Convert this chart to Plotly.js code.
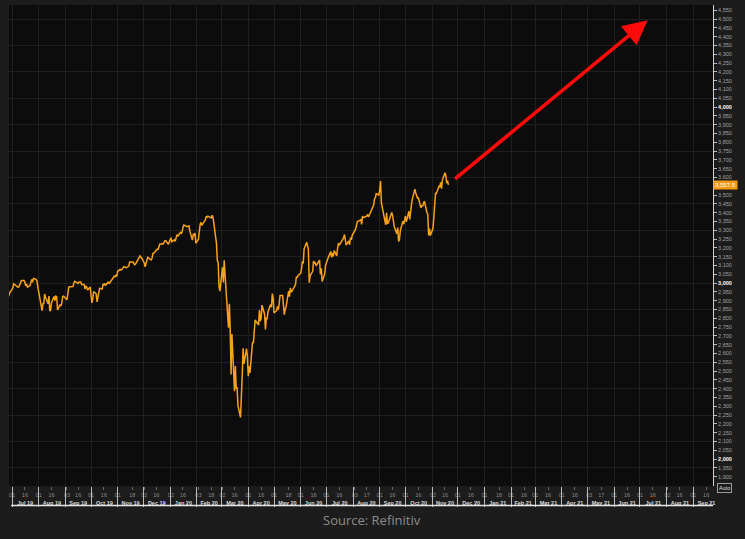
<!DOCTYPE html>
<html>
<head>
<meta charset="utf-8">
<script src="https://cdn.plot.ly/plotly-3.0.1.min.js"></script>
<style>
html,body{margin:0;padding:0;background:#1c1c1c;}
#chart{width:745px;height:539px;}
</style>
</head>
<body>
<div id="chart"></div>
<script>
// ---- Data (index level, daily) ----
const dates = [
"2019-06-27","2019-06-28","2019-07-01","2019-07-02","2019-07-03","2019-07-05","2019-07-08","2019-07-09","2019-07-10","2019-07-11","2019-07-12",
"2019-07-15","2019-07-16","2019-07-17","2019-07-18","2019-07-19","2019-07-22","2019-07-23","2019-07-24","2019-07-25","2019-07-26",
"2019-07-29","2019-07-30","2019-07-31","2019-08-01","2019-08-02","2019-08-05","2019-08-06","2019-08-07","2019-08-08","2019-08-09",
"2019-08-12","2019-08-13","2019-08-14","2019-08-15","2019-08-16","2019-08-19","2019-08-20","2019-08-21","2019-08-22","2019-08-23",
"2019-08-26","2019-08-27","2019-08-28","2019-08-29","2019-08-30","2019-09-03","2019-09-04","2019-09-05","2019-09-06",
"2019-09-09","2019-09-10","2019-09-11","2019-09-12","2019-09-13","2019-09-16","2019-09-17","2019-09-18","2019-09-19","2019-09-20",
"2019-09-23","2019-09-24","2019-09-25","2019-09-26","2019-09-27","2019-09-30","2019-10-01","2019-10-02","2019-10-03","2019-10-04",
"2019-10-07","2019-10-08","2019-10-09","2019-10-10","2019-10-11","2019-10-14","2019-10-15","2019-10-16","2019-10-17","2019-10-18",
"2019-10-21","2019-10-22","2019-10-23","2019-10-24","2019-10-25","2019-10-28","2019-10-29","2019-10-30","2019-10-31","2019-11-01",
"2019-11-04","2019-11-05","2019-11-06","2019-11-07","2019-11-08","2019-11-11","2019-11-12","2019-11-13","2019-11-14","2019-11-15",
"2019-11-18","2019-11-19","2019-11-20","2019-11-21","2019-11-22","2019-11-25","2019-11-26","2019-11-27","2019-11-29",
"2019-12-02","2019-12-03","2019-12-04","2019-12-05","2019-12-06","2019-12-09","2019-12-10","2019-12-11","2019-12-12","2019-12-13",
"2019-12-16","2019-12-17","2019-12-18","2019-12-19","2019-12-20","2019-12-23","2019-12-24","2019-12-26","2019-12-27","2019-12-30","2019-12-31",
"2020-01-02","2020-01-03","2020-01-06","2020-01-07","2020-01-08","2020-01-09","2020-01-10","2020-01-13","2020-01-14","2020-01-15","2020-01-16","2020-01-17",
"2020-01-21","2020-01-22","2020-01-23","2020-01-24","2020-01-27","2020-01-28","2020-01-29","2020-01-30","2020-01-31",
"2020-02-03","2020-02-04","2020-02-05","2020-02-06","2020-02-07","2020-02-10","2020-02-11","2020-02-12","2020-02-13","2020-02-14",
"2020-02-18","2020-02-19","2020-02-20","2020-02-21","2020-02-24","2020-02-25","2020-02-26","2020-02-27","2020-02-28",
"2020-03-02","2020-03-03","2020-03-04","2020-03-05","2020-03-06","2020-03-09","2020-03-10","2020-03-11","2020-03-12","2020-03-13",
"2020-03-16","2020-03-17","2020-03-18","2020-03-19","2020-03-20","2020-03-23","2020-03-24","2020-03-25","2020-03-26","2020-03-27",
"2020-03-30","2020-03-31","2020-04-01","2020-04-02","2020-04-03","2020-04-06","2020-04-07","2020-04-08","2020-04-09",
"2020-04-13","2020-04-14","2020-04-15","2020-04-16","2020-04-17","2020-04-20","2020-04-21","2020-04-22","2020-04-23","2020-04-24",
"2020-04-27","2020-04-28","2020-04-29","2020-04-30","2020-05-01","2020-05-04","2020-05-05","2020-05-06","2020-05-07","2020-05-08",
"2020-05-11","2020-05-12","2020-05-13","2020-05-14","2020-05-15","2020-05-18","2020-05-19","2020-05-20","2020-05-21","2020-05-22",
"2020-05-26","2020-05-27","2020-05-28","2020-05-29","2020-06-01","2020-06-02","2020-06-03","2020-06-04","2020-06-05",
"2020-06-08","2020-06-09","2020-06-10","2020-06-11","2020-06-12","2020-06-15","2020-06-16","2020-06-17","2020-06-18","2020-06-19",
"2020-06-22","2020-06-23","2020-06-24","2020-06-25","2020-06-26","2020-06-29","2020-06-30","2020-07-01","2020-07-02",
"2020-07-06","2020-07-07","2020-07-08","2020-07-09","2020-07-10","2020-07-13","2020-07-14","2020-07-15","2020-07-16","2020-07-17",
"2020-07-20","2020-07-21","2020-07-22","2020-07-23","2020-07-24","2020-07-27","2020-07-28","2020-07-29","2020-07-30","2020-07-31",
"2020-08-03","2020-08-04","2020-08-05","2020-08-06","2020-08-07","2020-08-10","2020-08-11","2020-08-12","2020-08-13","2020-08-14",
"2020-08-17","2020-08-18","2020-08-19","2020-08-20","2020-08-21","2020-08-24","2020-08-25","2020-08-26","2020-08-27","2020-08-28",
"2020-08-31","2020-09-01","2020-09-02","2020-09-03","2020-09-04","2020-09-08","2020-09-09","2020-09-10","2020-09-11",
"2020-09-14","2020-09-15","2020-09-16","2020-09-17","2020-09-18","2020-09-21","2020-09-22","2020-09-23","2020-09-24","2020-09-25",
"2020-09-28","2020-09-29","2020-09-30","2020-10-01","2020-10-02","2020-10-05","2020-10-06","2020-10-07","2020-10-08","2020-10-09",
"2020-10-12","2020-10-13","2020-10-14","2020-10-15","2020-10-16","2020-10-19","2020-10-20","2020-10-21","2020-10-22","2020-10-23",
"2020-10-26","2020-10-27","2020-10-28","2020-10-29","2020-10-30","2020-11-02","2020-11-03","2020-11-04","2020-11-05","2020-11-06",
"2020-11-09","2020-11-10","2020-11-11","2020-11-12","2020-11-13","2020-11-16","2020-11-17","2020-11-18","2020-11-19","2020-11-20"
];
const closes = [
2924,2942,2964,2973,2996,2990,2976,2979,2993,3000,3014,
3014,3004,2984,2995,2977,2986,3005,3020,3004,3026,
3021,3013,2980,2954,2932,2844,2882,2884,2938,2919,
2883,2926,2840,2848,2889,2924,2900,2925,2922,2847,
2878,2869,2887,2924,2926,2906,2938,2976,2979,
2979,2980,3001,3010,3007,2998,3006,3007,3006,2992,
2992,2966,2984,2977,2961,2977,2940,2887,2910,2952,
2939,2893,2919,2938,2970,2966,2995,2990,2998,2986,
3007,2996,3004,3010,3023,3039,3036,3047,3038,3067,
3078,3075,3077,3085,3093,3087,3091,3094,3097,3120,
3122,3120,3108,3104,3110,3133,3141,3154,3141,
3114,3093,3113,3117,3146,3135,3132,3141,3168,3169,
3192,3193,3191,3205,3221,3224,3223,3240,3240,3221,3231,
3258,3235,3246,3237,3253,3275,3265,3288,3283,3289,3316,3330,
3321,3321,3325,3295,3244,3276,3273,3284,3226,
3249,3298,3334,3345,3328,3352,3358,3379,3374,3380,
3370,3386,3373,3338,3226,3128,3116,2979,2954,
3090,3003,3130,3024,2972,2747,2882,2741,2481,2711,
2386,2529,2398,2409,2305,2237,2447,2476,2630,2541,
2627,2585,2471,2527,2489,2664,2659,2750,2790,
2762,2846,2784,2800,2875,2823,2737,2799,2798,2837,
2878,2863,2940,2912,2831,2843,2868,2849,2882,2930,
2930,2870,2820,2852,2864,2954,2923,2972,2949,2955,
2992,3036,3030,3044,3056,3081,3123,3112,3194,
3232,3208,3190,3002,3041,3067,3125,3114,3116,3098,
3118,3131,3050,3084,3009,3053,3100,3116,3130,
3180,3146,3170,3152,3185,3155,3197,3227,3216,3225,
3251,3257,3276,3236,3216,3239,3218,3258,3246,3271,
3295,3306,3327,3349,3351,3360,3333,3380,3373,3373,
3382,3390,3375,3385,3397,3431,3444,3479,3485,3508,
3500,3527,3580,3455,3427,3331,3399,3339,3341,
3383,3401,3385,3357,3319,3281,3315,3237,3247,3298,
3351,3335,3363,3381,3348,3408,3361,3419,3447,3477,
3534,3512,3489,3483,3484,3427,3443,3436,3453,3465,
3401,3391,3271,3310,3270,3310,3370,3443,3510,3509,
3550,3545,3572,3537,3585,3627,3610,3567,3582,3557.5
];

// Date-axis tick labels (first trading day and mid-month day)
const tickMonths = ["2019-07","2019-08","2019-09","2019-10","2019-11","2019-12","2020-01","2020-02","2020-03","2020-04","2020-05","2020-06","2020-07","2020-08","2020-09","2020-10","2020-11","2020-12","2021-01","2021-02","2021-03","2021-04","2021-05","2021-06","2021-07","2021-08","2021-09"];
const firstDayLabels = ["01","01","03","01","01","02","02","03","02","01","01","01","01","03","01","01","02","01","01","01","01","01","03","01","01","02","01"];
const midDayLabels   = ["16","16","16","16","18","16","16","18","16","16","18","16","16","17","16","16","16","16","18","16","16","16","17","16","16","16","16"];

// Right-axis price labels
const yTickStart = 1900, yTickEnd = 4550, yTickStep = 50;

// Annotation arrow (tail -> head) and texts
const arrowTail = {x: "2020-11-26", y: 3585};
const arrowHead = {x: "2021-07-10", y: 4494};
const sourceText = "Source: Refinitiv";
const lastLabel = "3,557.5";

// ---- Build helpers ----
const dayTickVals = [], dayTickText = [];
tickMonths.forEach((m, i) => {
  dayTickVals.push(m + "-" + firstDayLabels[i]); dayTickText.push(firstDayLabels[i]);
  dayTickVals.push(m + "-" + midDayLabels[i]);   dayTickText.push(midDayLabels[i]);
});
const yTickVals = [], yTickText = [];
for (let v = yTickStart; v <= yTickEnd; v += yTickStep) {
  yTickVals.push(v);
  const s = v.toLocaleString("en-US");
  yTickText.push(v % 1000 === 0 ? '<b><span style="color:#ffffff">' + s + '</span></b>' : s);
}

const xRange = ["2019-06-27 12:00", "2021-09-24"];
const yRange = [1847, 4580];

const traces = [
  {
    x: dates, y: closes, type: "scatter", mode: "lines",
    line: {color: "#f7a21b", width: 1.5},
    hoverinfo: "x+y", showlegend: false
  },
  {
    x: dates, y: closes, type: "scatter", mode: "lines",
    xaxis: "x2", yaxis: "y2",
    line: {color: "rgba(0,0,0,0)", width: 0},
    hoverinfo: "skip", showlegend: false
  }
];

const tickFontFamily = "Liberation Sans, Arial, sans-serif";

const layout = {
  width: 745, height: 539,
  margin: {l: 9, r: 32, t: 5, b: 53},
  paper_bgcolor: "#1c1c1c",
  plot_bgcolor: "#0c0c0c",
  showlegend: false,
  xaxis: {
    type: "date", range: xRange,
    tickmode: "array", tickvals: dayTickVals, ticktext: dayTickText,
    tickfont: {family: tickFontFamily, size: 5.5, color: "#8a8a8a"},
    ticks: "outside", ticklen: 3, tickcolor: "#666", tickwidth: 1,
    showgrid: false, zeroline: false, showline: false, fixedrange: true
  },
  xaxis2: {
    type: "date", range: xRange, overlaying: "x", anchor: "y", side: "bottom",
    tick0: "2019-07-01", dtick: "M1", tickformat: "%b %y", ticklabelmode: "period",
    ticklabelstandoff: -9,
    tickfont: {family: tickFontFamily, size: 5.5, color: "#dcdcdc", weight: "bold"},
    ticks: "outside", ticklen: 20, tickcolor: "#bdbdbd", tickwidth: 1,
    showgrid: true, gridcolor: "#1f1f1f", gridwidth: 1,
    zeroline: false, showline: false, fixedrange: true
  },
  yaxis: {
    side: "right", range: yRange,
    tickmode: "array", tickvals: yTickVals, ticktext: yTickText,
    tickfont: {family: tickFontFamily, size: 5.5, color: "#a0a0a0"},
    ticks: "outside", ticklen: 3, tickcolor: "#bbbbbb", tickwidth: 1,
    showgrid: false, zeroline: false,
    showline: true, linecolor: "#cfcfcf", linewidth: 1, fixedrange: true
  },
  yaxis2: {
    overlaying: "y", side: "right", range: yRange,
    tick0: 1800, dtick: 150, showticklabels: false, ticks: "",
    showgrid: true, gridcolor: "#1f1f1f", gridwidth: 1,
    zeroline: false, showline: false, fixedrange: true
  },
  shapes: [
    {type: "line", xref: "paper", yref: "paper", x0: 0.003, x1: 1, y0: -0.0405, y1: -0.0405,
     line: {color: "#e6e6e6", width: 1.5}}
  ],
  annotations: [
    {
      x: arrowHead.x, y: arrowHead.y, xref: "x", yref: "y",
      ax: arrowTail.x, ay: arrowTail.y, axref: "x", ayref: "y",
      text: "", showarrow: true, arrowhead: 2, arrowsize: 1.4, arrowwidth: 3.5,
      arrowcolor: "#ff0a0a", standoff: 0, startstandoff: 0
    },
    {
      x: 1, xref: "paper", xanchor: "left", y: closes[closes.length - 1], yref: "y",
      text: lastLabel, showarrow: false, bgcolor: "#f39a12",
      font: {family: tickFontFamily, size: 6, color: "#ffffff"}, borderpad: 1
    },
    {
      x: 0.5156, xref: "paper", y: -0.0707, yref: "paper",
      text: sourceText, showarrow: false, xanchor: "center", yanchor: "middle",
      font: {family: "Open Sans, Lato, sans-serif", size: 13, color: "#8c8c8c"}
    },
    {
      x: 1.006, xref: "paper", xanchor: "left", y: -0.004, yref: "paper", yanchor: "middle",
      text: "Auto", showarrow: false, bordercolor: "#9a9a9a", borderwidth: 1, borderpad: 1,
      font: {family: tickFontFamily, size: 5.5, color: "#dddddd"}
    }
  ]
};

Plotly.newPlot("chart", traces, layout, {displayModeBar: false, staticPlot: true});
</script>
</body>
</html>
